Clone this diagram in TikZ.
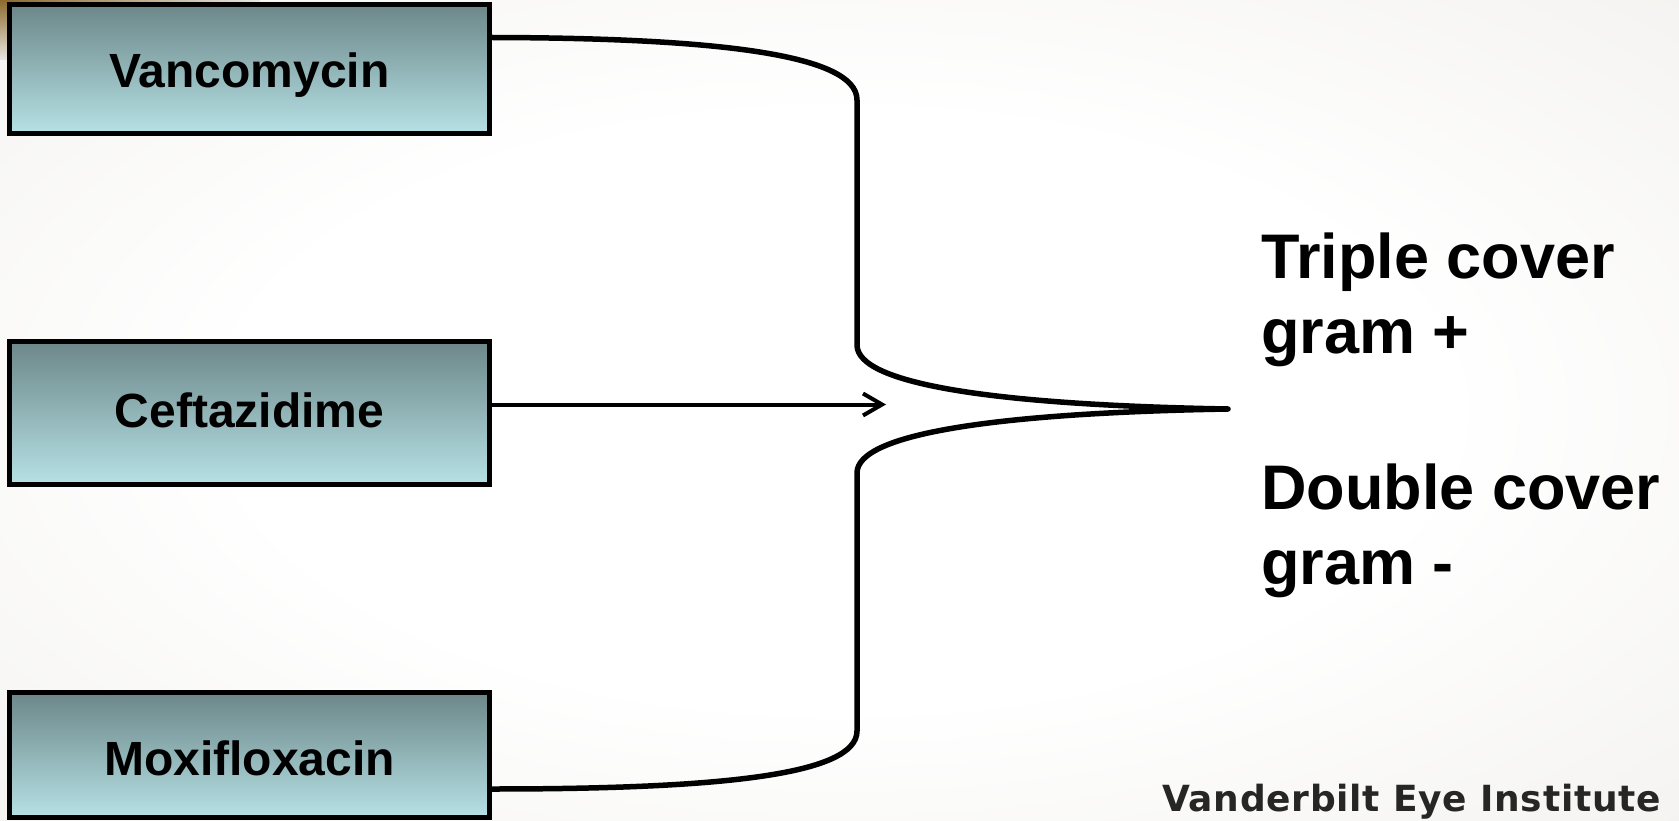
\documentclass[tikz,border=0pt]{standalone}
\usepackage{fontspec}
\setmainfont{Liberation Sans}
\newfontfamily\footfont[LetterSpace=2]{DejaVu Sans}
\usetikzlibrary{arrows.meta,calc}
\definecolor{boxtop}{RGB}{108,135,137}
\definecolor{boxbot}{RGB}{182,225,229}
\definecolor{bgedge}{RGB}{232,230,225}
\definecolor{goldish}{RGB}{140,105,45}
\pgfdeclareradialshading{bgshade}{\pgfpoint{0bp}{0bp}}{color(0bp)=(white); color(18bp)=(white); color(55bp)=(bgedge); color(75bp)=(bgedge)}
\begin{document}
\begin{tikzpicture}[x=1pt,y=-1pt,
  drug/.style={draw=black, line width=5pt, top color=boxtop, bottom color=boxbot,
    minimum width=480pt, inner sep=0pt, font=\fontsize{48}{50}\selectfont\bfseries, text depth=0pt},
  brace/.style={line width=5.5pt, line cap=round, line join=round},
  feed/.style={line width=4pt, line cap=round, -{Straight Barb[length=19pt,width=22pt]}},
  result/.style={font=\fontsize{63}{75}\selectfont\bfseries, align=left, anchor=base west, inner sep=0pt},
  footer/.style={font=\footfont\bfseries\fontsize{36}{42}\selectfont, text=black!85, anchor=base west, inner sep=0pt}]
\useasboundingbox (0,0) rectangle (1679,821);
\clip (0,0) rectangle (1679,821);
\shade[shading=bgshade] (0,0) rectangle (1679,821);
\shade[left color=goldish, right color=bgedge] (0,0) rectangle (260,6);
\shade[top color=goldish, bottom color=bgedge] (0,0) rectangle (10,60);

\node[drug, minimum height=128.5pt, text height=38pt] (vanc) at (249.5,69) {Vancomycin};
\node[drug, minimum height=143pt, text height=29pt] (ceft) at (249.5,412.5) {Ceftazidime};
\node[drug, minimum height=124.5pt, text height=40pt] (moxi) at (249.5,755) {Moxifloxacin};

\coordinate (tip) at (1228,409);
\coordinate (arrowend) at (886,404.5);

\draw[brace] ([yshift=31.5pt]vanc.east) .. controls (720,38) and (857,55) .. (857,100)
  -- (857,345) .. controls (857,385) and (1000,405) .. (tip)
  .. controls (1000,413) and (857,433) .. (857,473)
  -- (857,731) .. controls (857,775) and (720,789) .. ([yshift=-34pt]moxi.east);

\draw[feed] ([yshift=8pt]ceft.east) -- (arrowend);

\node[result] (triple) at (1261,353) {Triple cover\\gram +};
\node[result] (double) at (1261,584) {Double cover\\gram -};

\node[footer] (vei) at (1162,811) {Vanderbilt Eye Institute};
\end{tikzpicture}
\end{document}
